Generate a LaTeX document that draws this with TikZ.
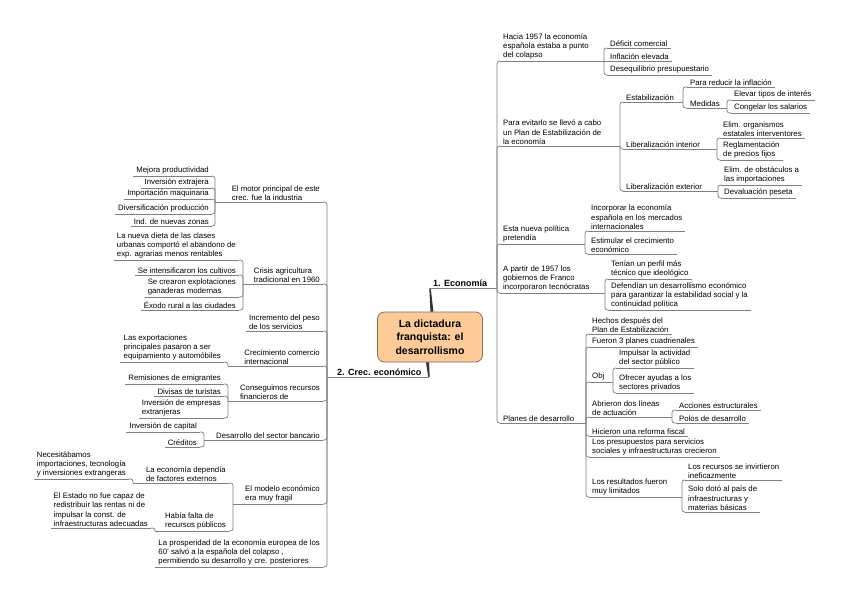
\documentclass[tikz,border=0pt]{standalone}
\usepackage{fontspec}
\setmainfont{Liberation Sans}
\usetikzlibrary{calc}
\definecolor{lc}{RGB}{128,128,128}
\definecolor{peach}{RGB}{252,203,152}
\definecolor{cborder}{RGB}{130,110,90}
\begin{document}
\begin{tikzpicture}[x=1pt,y=-1pt,
  base/.style={font=\fontsize{7.8}{9.3}\selectfont, align=left, inner xsep=3pt, inner ysep=1.3pt},
  rnode/.style={base, anchor=south west},
  lnode/.style={base, anchor=south east},
  tnode/.style={font=\fontsize{9}{11}\selectfont\bfseries, inner xsep=3pt, inner ysep=1.3pt},
  lineS/.style={draw=lc, line width=0.75pt},
  connS/.style={draw=lc, line width=0.75pt, rounded corners=2.5pt},
  tap/.style={fill=black!80},
  ctrbox/.style={draw=cborder, line width=0.8pt, fill=peach, rounded corners=7pt,
    minimum width=105pt, minimum height=50pt, align=center,
    font=\fontsize{10.5}{13.3}\selectfont\bfseries}]
\useasboundingbox (0,0) rectangle (848,599);

% ---------- central topic ----------
\node[ctrbox] (ctr) at (430,337) {La dictadura\\franquista: el\\desarrollismo};
\coordinate (t1) at (430,288);
\coordinate (t2) at (429,377);
\fill[tap] ($(ctr.north)+(0.4,0)$) -- ($(ctr.north)+(3.4,0)$) -- ($(t1)+(0.7,0)$) -- ($(t1)+(-0.7,0)$) -- cycle;
\fill[tap] ($(ctr.south)+(-4,0)$) -- ($(ctr.south)+(-1,0)$) -- ($(t2)+(0.7,0)$) -- ($(t2)+(-0.7,0)$) -- cycle;

% ---------- right side ----------
\node[tnode, anchor=south west] (eco) at (430,288) {1. Economía};
\coordinate (bR) at (497,288);

\node[rnode] (a1) at (500,61) {Hacia 1957 la economía\\española estaba a punto\\del colapso};
\coordinate (ba1) at (604,61);
\node[rnode] (a1x) at (607,48) {Déficit comercial};
\node[rnode] (a1y) at (607,61) {Inflación elevada};
\node[rnode] (a1z) at (607,75) {Desequilibrio presupuestario};

\node[rnode] (a2) at (500,146) {Para evitarlo se llevó a cabo\\un Plan de Estabilización de\\la economía};
\coordinate (ba2) at (620,146);
\node[rnode] (est) at (623,102) {Estabilización};
\coordinate (best) at (683,102);
\node[rnode] (est1) at (687,87) {Para reducir la inflación};
\node[rnode] (med) at (687,108) {Medidas};
\coordinate (bmed) at (727,108);
\node[rnode] (med1) at (731,100) {Elevar tipos de interés};
\node[rnode] (med2) at (731,113) {Congelar los salarios};
\node[rnode] (lint) at (623,149) {Liberalización interior};
\coordinate (blint) at (717,149);
\node[rnode] (lint1) at (720,138) {Elim. organismos\\estatales interventores};
\node[rnode] (lint2) at (720,160) {Reglamentación\\de precios fijos};
\node[rnode] (lext) at (623,191) {Liberalización exterior};
\coordinate (blext) at (718,191);
\node[rnode] (lext1) at (721,185) {Elim. de obstáculos a\\las importaciones};
\node[rnode] (lext2) at (721,198) {Devaluación peseta};

\node[rnode] (a3) at (500,244) {Esta nueva política\\pretendía};
\coordinate (ba3) at (585,244);
\node[rnode] (a31) at (588,231) {Incorporar la economía\\española en los mercados\\internacionales};
\node[rnode] (a32) at (588,254) {Estimular el crecimiento\\económico};

\node[rnode] (a4) at (500,293) {A partir de 1957 los\\gobiernos de Franco\\incorporaron tecnócratas};
\coordinate (ba4) at (605,293);
\node[rnode] (a41) at (608,279) {Tenían un perfil más\\técnico que ideológico};
\node[rnode] (a42) at (608,310) {Defendían un desarrollismo económico\\para garantizar la estabilidad social y la\\continuidad política};

\node[rnode] (a5) at (500,423) {Planes de desarrollo};
\coordinate (ba5) at (586,423);
\node[rnode] (p1) at (589,334) {Hechos después del\\Plan de Estabilización};
\node[rnode] (p2) at (589,347) {Fueron 3 planes cuadrienales};
\node[rnode] (p3) at (589,382) {Obj};
\coordinate (bp3) at (613,382);
\node[rnode] (p31) at (616,368) {Impulsar la actividad\\del sector público};
\node[rnode] (p32) at (616,393) {Ofrecer ayudas a los\\sectores privados};
\node[rnode] (p4) at (589,417) {Abrieron dos líneas\\de actuación};
\coordinate (bp4) at (672,417);
\node[rnode] (p41) at (676,410) {Acciones estructurales};
\node[rnode] (p42) at (676,423) {Polos de desarrollo};
\node[rnode] (p5) at (589,436) {Hicieron una reforma fiscal};
\node[rnode] (p6) at (589,457) {Los presupuestos para servicios\\sociales y infraestructuras crecieron};
\node[rnode] (p7) at (589,497) {Los resultados fueron\\muy limitados};
\coordinate (bp7) at (682,497);
\node[rnode] (p71) at (685,480) {Los recursos se invirtieron\\ineficazmente};
\node[rnode] (p72) at (685,512) {Solo dotó al país de\\infraestructuras y\\materias básicas};

% ---------- left side ----------
\node[tnode, anchor=south west] (crec) at (334,377) {2. Crec. económico};
\coordinate (bL) at (327,377);

\node[lnode] (l1) at (323,202) {El motor principal de este\\crec. fue la industria};
\coordinate (bl1) at (215,202);
\node[lnode] (l11) at (212,176) {Mejora productividad};
\node[lnode] (l12) at (212,188) {Inversión extrajera};
\node[lnode] (l13) at (212,199) {Importación maquinaria};
\node[lnode] (l14) at (212,214) {Diversificación producción};
\node[lnode] (l15) at (212,226) {Ind. de nuevas zonas};

\node[lnode] (l2) at (323,284) {Crisis agricultura\\tradicional en 1960};
\coordinate (bl2) at (243,284);
\node[lnode] (l21) at (239,260) {La nueva dieta de las clases\\urbanas comportó el abandono de\\exp. agrarias menos rentables};
\node[lnode] (l22) at (239,275) {Se intensificaron los cultivos};
\node[lnode] (l23) at (239,297) {Se crearon explotaciones\\ganaderas modernas};
\node[lnode] (l24) at (239,310) {Éxodo rural a las ciudades};

\node[lnode] (l3) at (323,331) {Incremento del peso\\de los servicios};

\node[lnode] (l4) at (323,366) {Crecimiento comercio\\internacional};
\coordinate (bl4) at (228,366);
\node[lnode] (l41) at (224,362) {Las exportaciones\\principales pasaron a ser\\equipamiento y automóbiles};

\node[lnode] (l5) at (323,401) {Conseguimos recursos\\financieros de};
\coordinate (bl5) at (228,401);
\node[lnode] (l51) at (224,384) {Remisiones de emigrantes};
\node[lnode] (l52) at (224,396) {Divisas de turistas};
\node[lnode] (l53) at (224,418) {Inversión de empresas\\extranjeras};

\node[lnode] (l6) at (323,440) {Desarrollo del sector bancario};
\coordinate (bl6) at (204,440);
\node[lnode] (l61) at (200,432) {Inversión de capital};
\node[lnode] (l62) at (200,447) {Créditos};

\node[lnode] (l7) at (323,504) {El modelo económico\\era muy fragil};
\coordinate (bl7) at (233,504);
\node[lnode] (l71) at (229,483) {La economía dependía\\de factores externos};
\coordinate (bl71) at (133,483);
\node[lnode] (l711) at (129,479) {Necesitábamos\\importaciones, tecnología\\y inversiones extrangeras};
\node[lnode] (l72) at (229,531) {Había falta de\\recursos públicos};
\coordinate (bl72) at (155,531);
\node[lnode] (l721) at (151,528) {El Estado no fue capaz de\\redistribuir las rentas ni de\\impulsar la const. de\\infraestructuras adecuadas};

\node[lnode] (l8) at (323,567) {La prosperidad de la economía europea de los\\60' salvó a la española del colapso ,\\permitiendo su desarrollo y cre. posteriores};

% ---------- underlines ----------
\foreach \m in {a1,a1x,a1y,a1z,a2,est,est1,med,med1,med2,lint,lint1,lint2,lext,lext1,lext2,
  a3,a31,a32,a4,a41,a42,a5,p1,p2,p3,p31,p32,p4,p41,p42,p5,p6,p7,p71,p72,
  l1,l11,l12,l13,l14,l15,l2,l21,l22,l23,l24,l3,l4,l41,l5,l51,l52,l53,l6,l61,l62,
  l7,l71,l711,l72,l721,l8}
  \draw[lineS] (\m.south west) -- (\m.south east);

% ---------- connectors right ----------
\draw[lineS] (t1) -- (eco.south west) -- (bR);
\foreach \c in {a1,a2,a3,a4,a5} \draw[connS] (bR) |- (\c.south west);
\draw[lineS] (a1.south east) -- (ba1);
\foreach \c in {a1x,a1z} \draw[connS] (ba1) |- (\c.south west);
\draw[lineS] (ba1) -- (a1y.south west);
\draw[lineS] (a2.south east) -- (ba2);
\foreach \c in {est,lint,lext} \draw[connS] (ba2) |- (\c.south west);
\draw[lineS] (est.south east) -- (best);
\foreach \c in {est1,med} \draw[connS] (best) |- (\c.south west);
\draw[lineS] (med.south east) -- (bmed);
\foreach \c in {med1,med2} \draw[connS] (bmed) |- (\c.south west);
\draw[lineS] (lint.south east) -- (blint);
\foreach \c in {lint1,lint2} \draw[connS] (blint) |- (\c.south west);
\draw[lineS] (lext.south east) -- (blext);
\foreach \c in {lext1,lext2} \draw[connS] (blext) |- (\c.south west);
\draw[lineS] (a3.south east) -- (ba3);
\foreach \c in {a31,a32} \draw[connS] (ba3) |- (\c.south west);
\draw[lineS] (a4.south east) -- (ba4);
\foreach \c in {a41,a42} \draw[connS] (ba4) |- (\c.south west);
\draw[lineS] (a5.south east) -- (ba5);
\foreach \c in {p1,p2,p3,p4,p5,p6,p7} \draw[connS] (ba5) |- (\c.south west);
\draw[lineS] (p3.south east) -- (bp3);
\foreach \c in {p31,p32} \draw[connS] (bp3) |- (\c.south west);
\draw[lineS] (p4.south east) -- (bp4);
\foreach \c in {p41,p42} \draw[connS] (bp4) |- (\c.south west);
\draw[lineS] (p7.south east) -- (bp7);
\foreach \c in {p71,p72} \draw[connS] (bp7) |- (\c.south west);

% ---------- connectors left ----------
\draw[lineS] (t2) -- (bL);
\foreach \c in {l1,l2,l3,l4,l5,l6,l7,l8} \draw[connS] (bL) |- (\c.south east);
\draw[lineS] (l1.south west) -- (bl1);
\foreach \c in {l11,l12,l13,l14,l15} \draw[connS] (bl1) |- (\c.south east);
\draw[lineS] (l2.south west) -- (bl2);
\foreach \c in {l21,l22,l23,l24} \draw[connS] (bl2) |- (\c.south east);
\draw[lineS] (l4.south west) -- (bl4);
\draw[connS] (bl4) |- (l41.south east);
\draw[lineS] (l5.south west) -- (bl5);
\foreach \c in {l51,l52,l53} \draw[connS] (bl5) |- (\c.south east);
\draw[lineS] (l6.south west) -- (bl6);
\foreach \c in {l61,l62} \draw[connS] (bl6) |- (\c.south east);
\draw[lineS] (l7.south west) -- (bl7);
\foreach \c in {l71,l72} \draw[connS] (bl7) |- (\c.south east);
\draw[lineS] (l71.south west) -- (bl71);
\draw[connS] (bl71) |- (l711.south east);
\draw[lineS] (l72.south west) -- (bl72);
\draw[connS] (bl72) |- (l721.south east);
\end{tikzpicture}
\end{document}
